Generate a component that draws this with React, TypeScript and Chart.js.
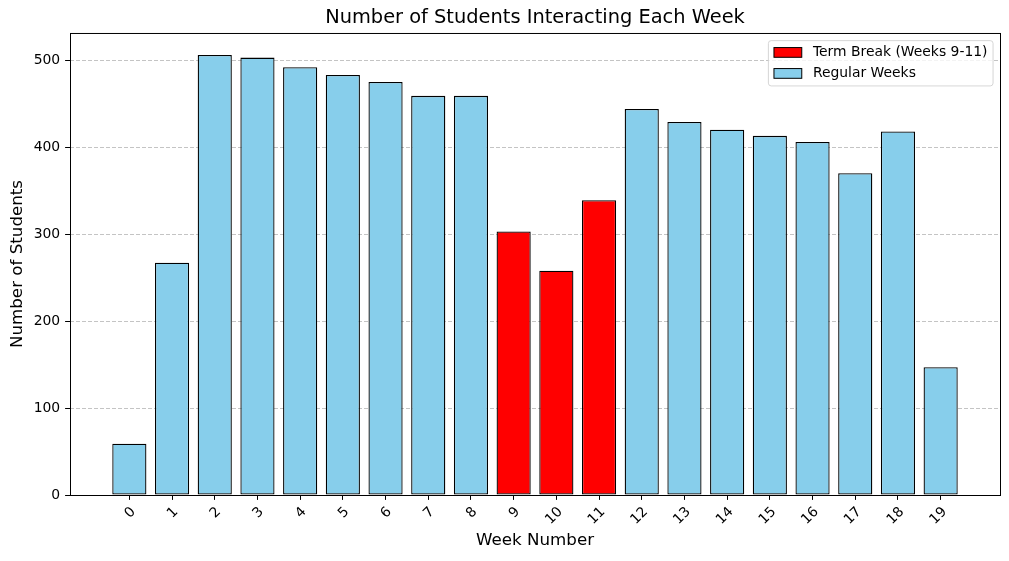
import React, { useEffect, useRef } from 'react';
import { Chart, registerables } from 'chart.js';

Chart.register(...registerables);

const chartTitle = 'Number of Students Interacting Each Week';
const xAxisTitle = 'Week Number';
const yAxisTitle = 'Number of Students';

const weeks = [0, 1, 2, 3, 4, 5, 6, 7, 8, 9, 10, 11, 12, 13, 14, 15, 16, 17, 18, 19];
const weekLabels = ['0', '1', '2', '3', '4', '5', '6', '7', '8', '9', '10', '11', '12', '13', '14', '15', '16', '17', '18', '19'];
const students = [59, 267, 506, 503, 492, 483, 475, 459, 459, 303, 258, 339, 444, 429, 420, 413, 406, 370, 418, 147];
const termBreakWeeks = [9, 10, 11];
const yTicks = [0, 100, 200, 300, 400, 500];
const legendLabels = ['Term Break (Weeks 9-11)', 'Regular Weeks'];

const FONT = "'DejaVu Sans', sans-serif";
const RED = '#ff0000';
const SKY = '#87ceeb';

export default function App() {
  const ref = useRef<HTMLCanvasElement | null>(null);

  useEffect(() => {
    document.body.style.margin = '0';
    const canvas = ref.current;
    if (!canvas) return;

    const breakData = weeks
      .filter((w) => termBreakWeeks.includes(w))
      .map((w) => ({ x: w, y: students[weeks.indexOf(w)] }));
    const regularData = weeks
      .filter((w) => !termBreakWeeks.includes(w))
      .map((w) => ({ x: w, y: students[weeks.indexOf(w)] }));

    const barWidthFrac = 0.8;
    const xPad = (weeks[weeks.length - 1] - weeks[0] + barWidthFrac) * 0.05;
    const xMin = weeks[0] - barWidthFrac / 2 - xPad;
    const xMax = weeks[weeks.length - 1] + barWidthFrac / 2 + xPad;
    const yMax = Math.max(...students) * 1.05;

    const framePlugin = {
      id: 'frameAndLegend',
      afterDatasetsDraw(chart: any) {
        const { ctx, chartArea } = chart;
        ctx.save();
        ctx.strokeStyle = '#000';
        ctx.lineWidth = 1;
        ctx.strokeRect(
          chartArea.left + 0.5,
          chartArea.top + 0.5,
          chartArea.right - chartArea.left,
          chartArea.bottom - chartArea.top
        );

        // legend
        const fs = 13.9;
        ctx.font = `${fs}px ${FONT}`;
        const pad = 0.4 * fs;
        const handleW = 2 * fs;
        const handleH = 0.7 * fs;
        const textPad = 0.8 * fs;
        const rowStep = 21;
        const textW = Math.max(...legendLabels.map((l) => ctx.measureText(l).width));
        const bw = pad + handleW + textPad + textW + pad;
        const bh = 45.3;
        const bx = chartArea.right - 0.5 * fs - bw;
        const by = chartArea.top + 0.55 * fs;
        const r = 2.8;
        ctx.beginPath();
        ctx.roundRect(bx, by, bw, bh, r);
        ctx.fillStyle = 'rgba(255,255,255,0.8)';
        ctx.fill();
        ctx.strokeStyle = 'rgba(204,204,204,0.8)';
        ctx.lineWidth = 1;
        ctx.stroke();

        const colors = [RED, SKY];
        legendLabels.forEach((label, i) => {
          const cy = by + 11.8 + i * rowStep;
          ctx.fillStyle = colors[i];
          ctx.fillRect(bx + pad, cy - handleH / 2, handleW, handleH);
          ctx.strokeStyle = '#000';
          ctx.lineWidth = 1;
          ctx.strokeRect(bx + pad, cy - handleH / 2, handleW, handleH);
          ctx.fillStyle = '#000';
          ctx.textAlign = 'left';
          ctx.textBaseline = 'middle';
          ctx.fillText(label, bx + pad + handleW + textPad, cy);
        });
        ctx.restore();
      },
    };

    const chart = new Chart(canvas, {
      type: 'bar',
      data: {
        datasets: [
          {
            label: legendLabels[0],
            data: breakData as any,
            backgroundColor: RED,
            borderColor: '#000',
            borderWidth: 1.3,
            borderSkipped: false,
            grouped: false,
            barPercentage: barWidthFrac,
            categoryPercentage: 1,
          },
          {
            label: legendLabels[1],
            data: regularData as any,
            backgroundColor: SKY,
            borderColor: '#000',
            borderWidth: 1.3,
            borderSkipped: false,
            grouped: false,
            barPercentage: barWidthFrac,
            categoryPercentage: 1,
          },
        ],
      },
      options: {
        responsive: false,
        animation: false,
        devicePixelRatio: 1,
        layout: { padding: { left: 0, right: 9, top: 0, bottom: 0 } },
        plugins: {
          legend: { display: false },
          tooltip: { enabled: false },
          title: {
            display: true,
            text: chartTitle,
            color: '#000',
            fullSize: false,
            font: { family: FONT, size: 19.4, weight: 'normal' as any },
            padding: { top: 6.3, bottom: 3.4 },
          },
        },
        scales: {
          x: {
            type: 'linear',
            min: xMin,
            max: xMax,
            offset: false,
            afterBuildTicks: (scale: any) => {
              scale.ticks = weeks.map((w) => ({ value: w }));
            },
            afterFit: (scale: any) => {
              scale.height = 66;
            },
            border: { display: false },
            grid: {
              display: true,
              offset: false,
              drawOnChartArea: false,
              drawTicks: true,
              tickLength: 4.9,
              tickColor: '#000',
              tickWidth: 1,
            },
            ticks: {
              autoSkip: false,
              minRotation: 45,
              maxRotation: 45,
              padding: 4,
              labelOffset: 4,
              color: '#000',
              font: { family: FONT, size: 13.9 },
              callback: (v: any) => {
                const i = weeks.indexOf(Number(v));
                return i >= 0 ? weekLabels[i] : '';
              },
            },
            title: {
              display: true,
              text: xAxisTitle,
              color: '#000',
              font: { family: FONT, size: 16.7 },
              padding: { top: 4, bottom: 10 },
            },
          },
          y: {
            type: 'linear',
            min: 0,
            max: yMax,
            afterBuildTicks: (scale: any) => {
              scale.ticks = yTicks.map((v) => ({ value: v }));
            },
            afterFit: (scale: any) => {
              scale.width = 70;
            },
            border: { display: false, dash: [4, 2] },
            grid: {
              display: true,
              color: 'rgba(176,176,176,0.75)',
              lineWidth: 1,
              drawTicks: true,
              tickLength: 4.9,
              tickColor: '#000',
              tickWidth: 1,
              tickBorderDash: [],
            },
            ticks: {
              padding: 4.9,
              color: '#000',
              font: { family: FONT, size: 13.9 },
              callback: (v: any) => String(v),
            },
            title: {
              display: true,
              text: yAxisTitle,
              color: '#000',
              font: { family: FONT, size: 16.7 },
              padding: { top: 8, bottom: 4 },
            },
          },
        },
      },
      plugins: [framePlugin],
    });

    return () => chart.destroy();
  }, []);

  return (
    <div style={{ width: 1009, height: 561 }}>
      <canvas ref={ref} width={1009} height={561} style={{ display: 'block' }} />
    </div>
  );
}
